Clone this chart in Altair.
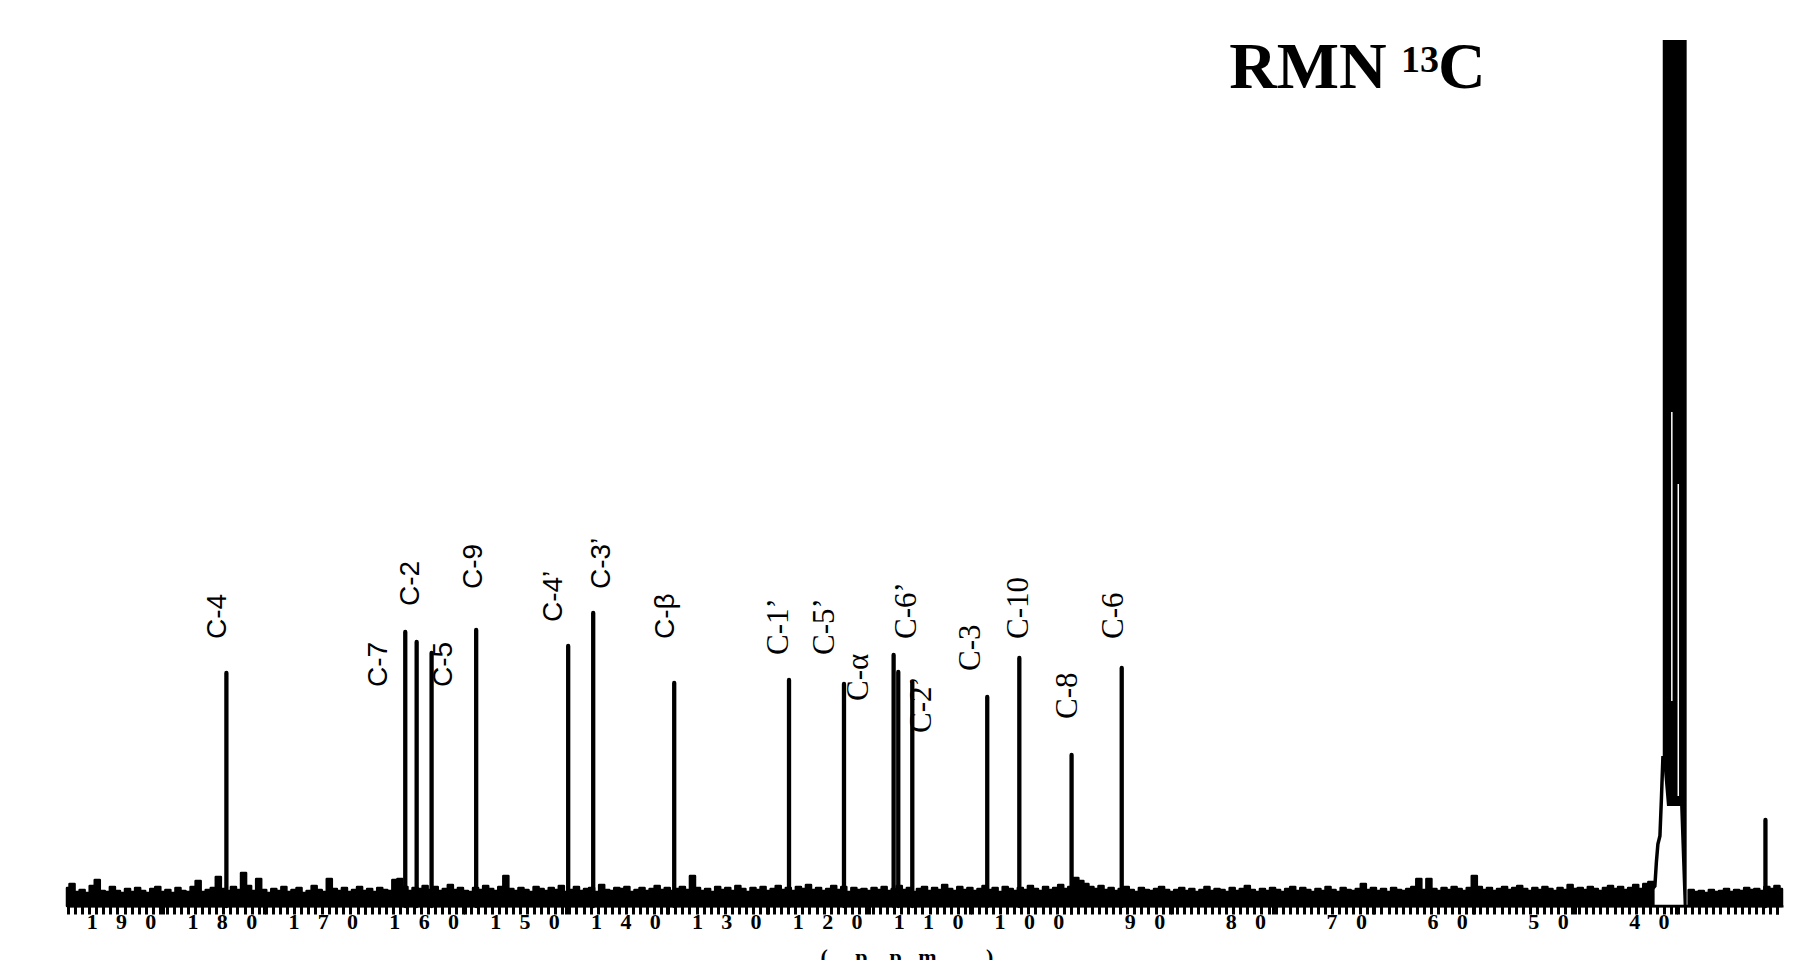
import altair as alt
import pandas as pd

# ---------------- data ----------------
# noise profile: one value every 0.5 ppm from 199.5 down to 29.5 ppm
noise_start = 199.5
noise_step = 0.5
noise_int = [
    18, 22, 14, 16, 13, 20, 26, 15, 14, 19, 15, 13, 17, 14, 18, 15, 13, 17, 19, 14,
    16, 13, 18, 15, 14, 19, 25, 14, 16, 18, 29, 17, 15, 19, 16, 33, 20, 15, 27, 16,
    13, 17, 15, 19, 14, 16, 18, 13, 15, 20, 16, 14, 27, 17, 15, 18, 14, 16, 19, 15,
    17, 14, 18, 16, 15, 26, 27, 19, 15, 18, 17, 20, 16, 19, 15, 17, 21, 16, 18, 15,
    14, 18, 16, 20, 17, 15, 19, 30, 17, 15, 18, 16, 14, 19, 17, 15, 18, 16, 20, 14,
    16, 19, 15, 17, 18, 14, 21, 16, 15, 18, 17, 19, 14, 16, 18, 15, 17, 20, 16, 18,
    15, 17, 19, 16, 30, 18, 15, 17, 14, 19, 16, 18, 15, 20, 17, 14, 18, 16, 19, 15,
    17, 20, 16, 18, 15, 19, 17, 21, 16, 18, 15, 17, 20, 16, 19, 14, 18, 16, 17, 15,
    18, 16, 19, 15, 17, 20, 16, 18, 14, 17, 19, 15, 18, 16, 21, 17, 15, 19, 16, 18,
    15, 17, 20, 16, 18, 14, 19, 17, 15, 18, 16, 20, 17, 15, 19, 16, 18, 21, 17, 19,
    28, 25, 22, 19, 17, 20, 16, 18, 15, 17, 19, 16, 14, 18, 16, 15, 17, 19, 16, 14,
    16, 18, 15, 17, 14, 16, 19, 15, 17, 16, 14, 18, 15, 17, 20, 16, 14, 17, 15, 18,
    16, 14, 17, 19, 15, 18, 16, 14, 17, 15, 19, 16, 14, 18, 16, 15, 17, 22, 16, 18,
    15, 17, 14, 18, 16, 15, 17, 19, 27, 16, 27, 17, 15, 18, 16, 19, 17, 15, 18, 30,
    19, 16, 18, 15, 17, 19, 16, 18, 20, 17, 15, 18, 16, 19, 17, 15, 18, 16, 21, 17,
    18, 16, 19, 17, 15, 18, 20, 17, 19, 16, 18, 21, 17, 22, 24, 0, 0, 0, 0, 0,
    0, 0, 16, 14, 15, 13, 16, 14, 15, 17, 14, 16, 15, 18, 16, 17, 15, 19, 17, 20,
    17,
]

# resolved peaks (ppm, height)
peak_ppm = [183.70, 165.97, 164.84, 163.36, 158.94, 149.82, 147.34, 139.31,
            127.93, 122.48, 117.56, 117.10, 115.71, 108.28, 105.10, 99.92,
            94.95, 31.14]
peak_int = [233, 274, 264, 253, 276, 260, 293, 223,
            226, 222, 251, 234, 224, 209, 248, 151,
            238, 86]

# solvent (DMSO-d6) multiplet: rising left flank, off-scale body, right flank
dmso_flank_ppm = [42.45, 42.1, 41.95, 41.8, 41.6, 41.45, 41.3]
dmso_flank_int = [16, 20, 44, 62, 70, 108, 150]
dmso_body_ppm = [41.32, 40.9, 39.6, 39.25, 38.95]
dmso_body_top = [950, 950, 950, 950, 950]
dmso_body_bottom = [150, 100, 100, 0, 0]
dmso_slit_ppm = [40.42, 39.78]
dmso_slit_low = [205, 110]
dmso_slit_high = [494, 422]

# assignments
label_text = ["C-4", "C-7", "C-2", "C-5", "C-9", "C-4’", "C-3’", "C-β",
              "C-1’", "C-5’", "C-α", "C-6’", "C-2’", "C-3", "C-10", "C-8", "C-6"]
label_ppm = [184.52, 168.58, 165.39, 162.14, 159.12, 151.27, 146.48, 140.11,
             128.95, 124.40, 120.98, 116.20, 114.72, 109.93, 105.15, 100.26, 95.70]
label_int = [267, 219, 300, 219, 317, 284, 317, 267,
             251, 251, 205, 267, 173, 235, 267, 187, 267]
label_family = ["sans"] * 8 + ["serif"] * 9

# heading "RMN 13C" (pieces, placed in spectrum coordinates)
head_text = ["RMN", "13", "C"]
head_ppm = [84.30, 67.26, 63.59]
head_int = [818, 834, 818]
head_size = [66, 38, 66]

# axis
major_ticks = [190, 180, 170, 160, 150, 140, 130, 120, 110, 100, 90, 80, 70, 60, 50, 40, 30]
tick_labels = ["1 9 0", "1 8 0", "1 7 0", "1 6 0", "1 5 0", "1 4 0", "1 3 0", "1 2 0",
               "1 1 0", "1 0 0", "9 0", "8 0", "7 0", "6 0", "5 0", "4 0", ""]
minor_start = 30.0
minor_step = 0.7
minor_count = 243

# ---------------- build ----------------
noise_df = pd.DataFrame({
    "ppm": [noise_start - noise_step * i for i in range(len(noise_int))],
    "int": noise_int,
})
peak_df = pd.DataFrame({"ppm": peak_ppm, "int": peak_int})
flank_df = pd.DataFrame({"ppm": dmso_flank_ppm, "int": dmso_flank_int})
body_df = pd.DataFrame({"ppm": dmso_body_ppm, "top": dmso_body_top, "bot": dmso_body_bottom})
slit_df = pd.DataFrame({"ppm": dmso_slit_ppm, "lo": dmso_slit_low, "hi": dmso_slit_high})
label_df = pd.DataFrame({"ppm": label_ppm, "int": label_int, "text": label_text,
                         "fam": label_family})
head_df = pd.DataFrame({"ppm": head_ppm, "int": head_int, "text": head_text,
                        "size": head_size})
minor_ticks = [round(minor_start + minor_step * k, 3) for k in range(minor_count)]

gap = "\u00a0\u00a0\u00a0\u200a"
expr = "''"
for v, t in zip(reversed(major_ticks), reversed(tick_labels)):
    expr = f"datum.value == {v} ? '{t.replace(' ', gap)}' : ({expr})"

xscale = alt.Scale(domain=[29.4, 199.5], reverse=True, nice=False, zero=False)
yscale = alt.Scale(domain=[0, 866], nice=False, zero=False)


def X(ax=None):
    return alt.X("ppm:Q", scale=xscale, axis=ax)


serif = "Liberation Serif"
sans = "Liberation Sans"

major_axis = alt.Axis(
    orient="bottom",
    values=major_ticks, tickSize=8, tickWidth=3, tickColor="black",
    domain=True, domainWidth=2, domainColor="black", grid=False,
    labelExpr=expr, labelFont=serif, labelFontWeight="bold", labelFontSize=22,
    labelColor="black", labelAlign="right", labelOffset=-7, labelBaseline="alphabetic",
    labelPadding=14, labelOverlap=False, labelFlush=False,
    title="(\u00a0\u00a0\u00a0\u00a0\u00a0p\u00a0\u00a0\u00a0\u00a0p\u00a0\u00a0\u00a0m"
          + "\u00a0" * 9 + ")",
    titleFont=serif, titleFontWeight="bold", titleFontSize=22, titleColor="black",
    titleAlign="left", titleX=753, titleY=40, titleBaseline="top",
)
minor_axis = alt.Axis(
    orient="bottom",
    values=minor_ticks, tickSize=8, tickWidth=3, tickColor="black",
    domain=False, grid=False, labels=False, title=None,
)

noise = alt.Chart(noise_df).mark_area(
    color="black", interpolate="step", stroke="black", strokeWidth=2.5, strokeJoin="round"
).encode(
    x=X(major_axis),
    y=alt.Y("int:Q", scale=yscale, axis=None),
)

peaks = alt.Chart(peak_df).mark_rule(color="black", strokeWidth=4.3, strokeCap="round").encode(
    x=X(minor_axis),
    y=alt.Y("int:Q", scale=yscale, axis=None),
    y2=alt.datum(0),
)

flank = alt.Chart(flank_df).mark_line(color="black", strokeWidth=3.5).encode(
    x=X(), y=alt.Y("int:Q", scale=yscale, axis=None),
)
body = alt.Chart(body_df).mark_area(color="black", clip=True).encode(
    x=X(), y=alt.Y("top:Q", scale=yscale, axis=None), y2="bot:Q",
)
slits = alt.Chart(slit_df).mark_rule(color="white", strokeWidth=1.5).encode(
    x=X(), y=alt.Y("lo:Q", scale=yscale, axis=None), y2="hi:Q",
)

lab_sans = alt.Chart(label_df[label_df.fam == "sans"]).mark_text(
    angle=270, align="left", baseline="middle", font=sans, fontSize=28, color="black"
).encode(
    x=X(), y=alt.Y("int:Q", scale=yscale, axis=None), text="text:N",
)
lab_serif = alt.Chart(label_df[label_df.fam == "serif"]).mark_text(
    angle=270, align="left", baseline="middle", font=serif, fontSize=31, color="black"
).encode(
    x=X(), y=alt.Y("int:Q", scale=yscale, axis=None), text="text:N",
)
heading = alt.Chart(head_df).mark_text(
    align="left", baseline="alphabetic", font=serif, fontWeight="bold", color="black"
).encode(
    x=X(), y=alt.Y("int:Q", scale=yscale, axis=None), text="text:N",
    size=alt.Size("size:Q", scale=None, legend=None),
)

chart = alt.layer(
    noise, peaks, flank, body, slits, lab_sans, lab_serif, heading
).resolve_axis(x="independent").properties(
    width=1716, height=866,
    padding={"left": 59, "top": 32, "right": 10, "bottom": 60},
    autosize=alt.AutoSizeParams(type="none"),
    background="white",
).configure_view(strokeWidth=0, strokeOpacity=0)

chart.save("out.html", embed_options={"renderer": "svg", "actions": False})
